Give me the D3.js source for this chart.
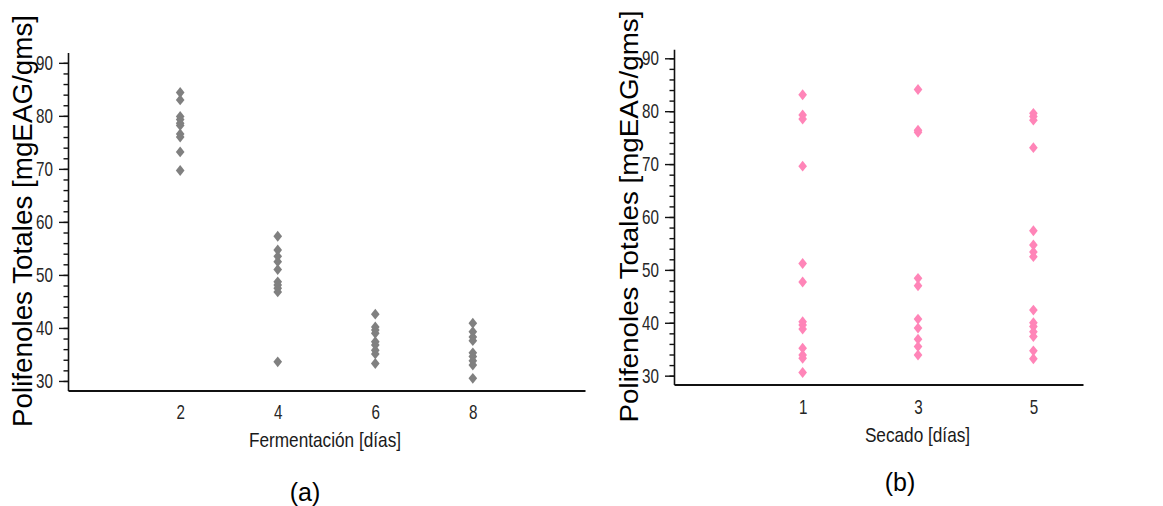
<!DOCTYPE html>
<html>
<head>
<meta charset="utf-8">
<script src="https://cdn.jsdelivr.net/npm/d3@7"></script>
<style>
  html, body { margin: 0; padding: 0; background: #fff; }
  svg { display: block; }
</style>
</head>
<body>
<svg id="chart" width="1163" height="506"></svg>
<script>
// ---- Data ----
const fermentDays = [2, 4, 6, 8];
const ferment2 = [84.4, 83.0, 79.9, 79.3, 78.6, 78.2, 76.6, 76.0, 73.2, 69.7];
const ferment4 = [57.3, 54.7, 53.5, 52.5, 51.0, 48.7, 48.1, 47.5, 46.8, 33.6];
const ferment6 = [42.6, 40.2, 39.6, 39.0, 37.4, 36.8, 35.8, 35.1, 33.3];
const ferment8 = [40.9, 39.3, 38.3, 37.6, 35.3, 34.6, 33.8, 33.0, 30.5];

const dryDays = [1, 3, 5];
const dry1 = [83.1, 79.3, 78.5, 69.6, 51.2, 47.7, 40.2, 39.6, 38.8, 35.2, 33.9, 33.3, 30.6];
const dry3 = [84.1, 76.4, 76.0, 48.4, 47.0, 40.7, 39.0, 36.9, 35.5, 33.9];
const dry5 = [79.6, 79.0, 78.3, 73.1, 57.4, 54.7, 53.4, 52.5, 42.4, 40.0, 39.3, 38.3, 37.4, 34.7, 33.2];

const yMajorTicks = [30, 40, 50, 60, 70, 80, 90];
const yLabel = "Polifenoles Totales [mgEAG/gms]";

// ---- Build point tables ----
const fermentPoints = [ferment2, ferment4, ferment6, ferment8]
  .flatMap((vals, i) => vals.map(v => ({ x: fermentDays[i], y: v })));
const dryPoints = [dry1, dry3, dry5]
  .flatMap((vals, i) => vals.map(v => ({ x: dryDays[i], y: v })));

const svg = d3.select("#chart");
const SANS = "'Liberation Sans', Arial, Helvetica, sans-serif";
const TICK_SX = 0.76;   // condensed look of the reference tick labels
const TITLE_SX = 0.82;

// diamond symbol (slightly taller than wide)
const diamond = {
  draw(ctx, size) {
    const w = Math.sqrt(size) * 0.56, h = Math.sqrt(size) * 0.7;
    ctx.moveTo(0, -h); ctx.lineTo(w, 0); ctx.lineTo(0, h); ctx.lineTo(-w, 0); ctx.closePath();
  }
};

// horizontally condense a text element around its anchor x
function condense(sel, sx) {
  sel.each(function () {
    const t = d3.select(this);
    const x0 = +(t.attr("x") || 0);
    t.attr("x", 0).attr("transform", `translate(${x0},0) scale(${sx},1)`);
  });
}

function panel(cfg) {
  const g = svg.append("g");
  const x = d3.scaleLinear().domain(cfg.xDomain).range(cfg.xRange);
  const y = d3.scaleLinear().domain(cfg.yDomain).range(cfg.yRange);

  // minor y ticks
  g.append("g")
    .attr("transform", `translate(${cfg.xRange[0]},0)`)
    .call(d3.axisLeft(y).tickValues(d3.range(30, 91, 2)).tickSize(4.5).tickSizeOuter(0).tickFormat(""))
    .call(a => a.select(".domain").remove())
    .call(a => a.selectAll("line").attr("stroke", "#111").attr("stroke-width", 1.4));

  // major y ticks + domain
  const ya = g.append("g")
    .attr("transform", `translate(${cfg.xRange[0]},0)`)
    .call(d3.axisLeft(y).tickValues(yMajorTicks).tickSize(9).tickSizeOuter(0).tickPadding(6));
  ya.select(".domain").attr("stroke", "#111").attr("stroke-width", 1.6);
  ya.selectAll("line").attr("stroke", "#111").attr("stroke-width", 1.4);
  ya.selectAll("text").attr("font-family", SANS).attr("font-size", 20).attr("fill", "#262626")
    .call(condense, TICK_SX);

  // x axis
  const xa = g.append("g")
    .attr("transform", `translate(0,${cfg.yRange[0]})`)
    .call(d3.axisBottom(x).tickValues(cfg.cats).tickSize(0).tickSizeOuter(0).tickPadding(cfg.xPad).tickFormat(d3.format("d")));
  xa.select(".domain").attr("stroke", "#111").attr("stroke-width", 1.8);
  xa.selectAll("text").attr("font-family", SANS).attr("font-size", 20).attr("fill", "#262626")
    .call(condense, TICK_SX);

  // points
  g.append("g").selectAll("path").data(cfg.points).join("path")
    .attr("transform", d => `translate(${x(d.x)},${y(d.y)})`)
    .attr("d", d3.symbol().type(diamond).size(60))
    .attr("fill", cfg.color);

  // x title
  g.append("text")
    .attr("transform", `translate(${cfg.xTitlePos[0]},${cfg.xTitlePos[1]}) scale(${TITLE_SX},1)`)
    .attr("text-anchor", "middle").attr("font-family", SANS)
    .attr("font-size", 21).attr("fill", "#1a1a1a")
    .text(cfg.xTitle);

  // y title
  g.append("text")
    .attr("transform", `translate(${cfg.yTitlePos[0]},${cfg.yTitlePos[1]}) scale(${cfg.yTitleSx},1) rotate(-90)`)
    .attr("text-anchor", "middle")
    .attr("font-family", SANS)
    .attr("font-size", 27.8).attr("fill", "#000")
    .text(yLabel);

  // panel label
  g.append("text")
    .attr("x", cfg.labelPos[0]).attr("y", cfg.labelPos[1])
    .attr("text-anchor", "middle")
    .attr("font-family", SANS)
    .attr("font-size", 25).attr("fill", "#000")
    .text(cfg.label);
}

panel({
  points: fermentPoints, cats: fermentDays, color: "#808080",
  xDomain: [-0.3, 10.3], xRange: [68, 585],
  yDomain: [28.2, 91.95], yRange: [390.5, 52.5],
  xPad: 14,
  xTitle: "Fermentación [días]", xTitlePos: [325, 447],
  yTitlePos: [32, 221], yTitleSx: 1,
  label: "(a)", labelPos: [305, 501]
});

panel({
  points: dryPoints, cats: dryDays, color: "#ff85b8",
  xDomain: [-1.23, 5.86], xRange: [674, 1083],
  yDomain: [28.33, 91.7], yRange: [384.5, 49.3],
  xPad: 15.5,
  xTitle: "Secado [días]", xTitlePos: [917.5, 442],
  yTitlePos: [638, 216.5], yTitleSx: 0.9,
  label: "(b)", labelPos: [900, 491]
});
</script>
</body>
</html>
